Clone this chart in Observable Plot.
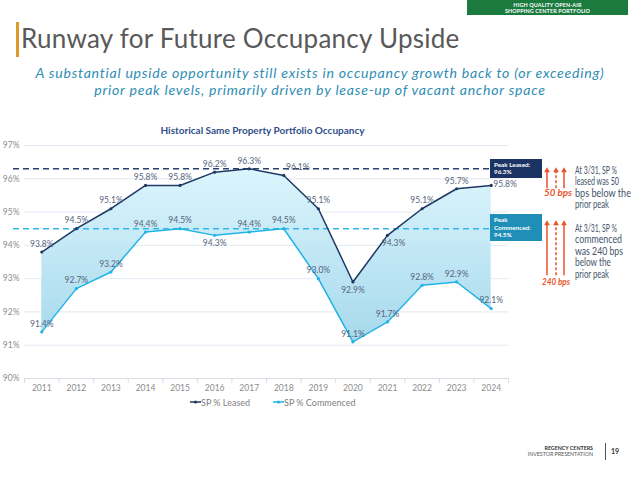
<!DOCTYPE html>
<html><head><meta charset="utf-8">
<script src="https://cdn.jsdelivr.net/npm/d3@7"></script>
<script src="https://cdn.jsdelivr.net/npm/@observablehq/plot@0.6"></script>
<style>
body{margin:0;background:#fff;}
#page{position:relative;width:640px;height:479px;overflow:hidden;font-family:Lato,"Open Sans",sans-serif;background:#fff;}
.abs{position:absolute;}
#banner{left:467px;top:0;width:161px;height:15px;background:#1b7a3e;color:#fff;font-weight:700;font-size:5.4px;line-height:6px;text-align:center;padding-top:1.5px;box-sizing:border-box;letter-spacing:0.15px;}
#bar{left:16px;top:22px;width:3px;height:35px;background:#dc9a2c;}
#title{left:21px;top:22px;font-size:26px;color:#595959;white-space:nowrap;letter-spacing:0.25px;}
.sub{left:0;width:640px;text-align:center;font-style:italic;font-size:14.1px;line-height:17px;height:17px;color:#2f8db3;letter-spacing:0.75px;white-space:nowrap;}
#ctitle{left:0;top:124px;width:525px;text-align:center;font-weight:700;font-size:10px;color:#2f4f8a;}
#chart{left:0;top:120px;}
.peak{position:absolute;left:490px;width:52px;color:#fff;font-weight:700;font-size:6.3px;line-height:7.5px;padding:2px 0 0 4px;box-sizing:border-box;}
#legend{left:0;top:397px;width:640px;height:12px;font-size:9px;color:#7f7f7f;}
.lg{position:absolute;top:0;white-space:nowrap;}
#footer1{right:47px;top:445px;font-size:5.3px;font-weight:700;color:#333;}
#footer2{right:47px;top:451px;font-size:5.3px;color:#555;}
#fline{left:605px;top:443px;width:1px;height:17px;background:#555;}
#pnum{left:611px;top:447px;font-size:7px;font-weight:700;color:#333;}
</style></head><body>
<div id="page">
  <div id="banner" class="abs">HIGH QUALITY OPEN-AIR<br>SHOPPING CENTER PORTFOLIO</div>
  <div id="bar" class="abs"></div>
  <div id="title" class="abs">Runway for Future Occupancy Upside</div>
  <div class="abs sub" style="top:64px">A substantial upside opportunity still exists in occupancy growth back to (or exceeding)</div>
  <div class="abs sub" style="top:81px">prior peak levels, primarily driven by lease-up of vacant anchor space</div>
  <div id="chart" class="abs"></div>
  <div id="ctitle" class="abs">Historical Same Property Portfolio Occupancy</div>
  <div id="legend" class="abs"></div>
  <div id="footer1" class="abs">REGENCY CENTERS</div>
  <div id="footer2" class="abs">INVESTOR PRESENTATION</div>
  <div id="fline" class="abs"></div>
  <div id="pnum" class="abs">19</div>
</div>
<script>
// ---- data ----
const years = [2011,2012,2013,2014,2015,2016,2017,2018,2019,2020,2021,2022,2023,2024];
const leased = [93.8,94.5,95.1,95.8,95.8,96.2,96.3,96.1,95.1,92.9,94.3,95.1,95.7,95.8];
const commenced = [91.4,92.7,93.2,94.4,94.5,94.3,94.4,94.5,93.0,91.1,91.7,92.8,92.9,92.1];
const yTicks = [90,91,92,93,94,95,96,97];
const peakLeased = 96.3;
const peakCommenced = 94.5;
const seriesNames = ["SP % Leased","SP % Commenced"];
const leasedGapBps = 50;
const commencedGapBps = 240;
const leasedNote = ["At 3/31, SP %","leased was "+leasedGapBps,"bps below the","prior peak"];
const commencedNote = ["At 3/31, SP %","commenced","was "+commencedGapBps+" bps","below the","prior peak"];

// presentation only
const leasedLabelAt = ["top","top","top","top","top","top","top","topright","top","bottom","bottomright","top","top","right"];
const commencedLabelAt = ["top","top","top","top","top","bottom","top","top","top","top","top","top","top","top"];
const leasedNoteWidths = [42,44,56,34];
const commencedNoteWidths = [42,47,48,36,34];

const navy = "#1f3864", cyan = "#1fb3e6", lab = "#56647d";
const data = years.map((year,i)=>({year, leased:leased[i], commenced:commenced[i], lp:leasedLabelAt[i], cp:commencedLabelAt[i]}));
const bounds = [years[0]-0.5, ...years.map(y=>y+0.5)];
const pct = v => v.toFixed(1)+"%";

const placements = {
  top:{dx:0,dy:-8,textAnchor:"middle"},
  bottom:{dx:0,dy:8,textAnchor:"middle"},
  topright:{dx:14,dy:-8,textAnchor:"middle"},
  bottomright:{dx:6,dy:8,textAnchor:"middle"},
  right:{dx:2,dy:-1,textAnchor:"start"}
};
const labelMarks = [];
for (const [k,p] of Object.entries(placements)) {
  labelMarks.push(Plot.text(data.filter(d=>d.lp===k), {x:"year", y:"leased", text:d=>pct(d.leased), fill:lab, ...p}));
  labelMarks.push(Plot.text(data.filter(d=>d.cp===k), {x:"year", y:"commenced", text:d=>pct(d.commenced), fill:lab, ...p}));
}

const chart = Plot.plot({
  width: 640, height: 285,
  marginTop: 25, marginBottom: 27, marginLeft: 24, marginRight: 132,
  style: {fontFamily:"Lato, sans-serif", fontSize:"8.5px", color:"#8c8c8c", background:"transparent", overflow:"visible"},
  x: {domain:[years[0]-0.5, years[years.length-1]+0.5], ticks: years, tickFormat: d=>String(d), tickSize:0, tickPadding:6, label:null},
  y: {domain:[yTicks[0], yTicks[yTicks.length-1]], ticks:yTicks, tickFormat: d=>d+"%", tickSize:0, tickPadding:5, label:null},
  marks: [
    Plot.gridY(yTicks.slice(1), {stroke:"#e1e9f2", strokeOpacity:1}),
    Plot.ruleY([yTicks[0]], {stroke:"#d9dee6"}),
    Plot.ruleX(bounds, {y1:yTicks[0], y2:yTicks[0]-0.15, stroke:"#d9dee6"}),
    Plot.areaY(data, {x:"year", y1:"commenced", y2:"leased", fill:"url(#occGrad)"}),
    Plot.ruleY([peakLeased], {stroke:"#27416f", strokeWidth:1.6, strokeDasharray:"6,4", insetLeft:-11, insetRight:16}),
    Plot.ruleY([peakCommenced], {stroke:"#2fb8e8", strokeWidth:1.6, strokeDasharray:"6,4", insetLeft:-11, insetRight:16}),
    Plot.line(data, {x:"year", y:"leased", stroke:navy, strokeWidth:1.5}),
    Plot.line(data, {x:"year", y:"commenced", stroke:cyan, strokeWidth:1.5}),
    Plot.dot(data, {x:"year", y:"leased", r:1.6, fill:navy}),
    Plot.dot(data, {x:"year", y:"commenced", r:1.6, fill:cyan}),
    ...labelMarks
  ]
});
const svg = d3.select(chart);
const defs = svg.insert("defs", ":first-child");
const g = defs.append("linearGradient").attr("id","occGrad").attr("x1",0).attr("y1",0).attr("x2",0).attr("y2",1);
g.append("stop").attr("offset","0%").attr("stop-color","#dcf5fd");
g.append("stop").attr("offset","100%").attr("stop-color","#a6d9ec");
document.getElementById("chart").appendChild(chart);

// annotations, anchored on the y scale
const top0 = 120;
const ys = chart.scale("y");
const yL = top0 + ys.apply(peakLeased);
const yC = top0 + ys.apply(peakCommenced);
const page = document.getElementById("page");
function div(cls, html, css){const d=document.createElement("div");d.className=cls;d.innerHTML=html;Object.assign(d.style,css);page.appendChild(d);return d;}
div("peak", "Peak Leased:<br>"+pct(peakLeased), {top:(yL-9.5)+"px", height:"19px", background:"#1c3464"});
div("peak", "Peak<br>Commenced:<br>"+pct(peakCommenced), {top:(yC-14)+"px", height:"27px", background:"#1f8fb8"});

const ann = d3.select(page).append("svg").attr("class","abs").attr("width",640).attr("height",479)
  .style("left","0px").style("top","0px").style("pointer-events","none")
  .style("font-family","Lato, sans-serif");
const oc = "#e8532a";
function arrows(y0, y1){
  [547,556,564].forEach((x,i)=>{
    ann.append("line").attr("x1",x).attr("x2",x).attr("y1",y1).attr("y2",y0+4).attr("stroke",oc).attr("stroke-width",1.5).attr("stroke-dasharray", i===1?"3,2":null);
    ann.append("path").attr("d",`M${x-2.8},${y0+5}L${x},${y0}L${x+2.8},${y0+5}Z`).attr("fill",oc);
  });
}
arrows(yL-1, yL+20);
arrows(yL+52, yL+107);
function note(lines, widths, yc){
  lines.forEach((t,i)=>{
    ann.append("text").attr("x",575).attr("y",yc+i*11.5).attr("dy","0.35em")
      .attr("font-size",10.8).attr("fill","#44546a")
      .attr("textLength",widths[i]).attr("lengthAdjust","spacingAndGlyphs").text(t);
  });
}
note(leasedNote, leasedNoteWidths, yL+1.7);
note(commencedNote, commencedNoteWidths, yL+59.7);
function bps(t, xc, yc){
  ann.append("text").attr("x",xc).attr("y",yc).attr("dy","0.35em").attr("text-anchor","middle")
    .attr("font-size",9.5).attr("font-weight",700).attr("font-style","italic").attr("fill",oc)
    .attr("textLength",28).attr("lengthAdjust","spacingAndGlyphs").text(t);
}
bps(leasedGapBps+" bps", 558, yL+24.7);
bps(commencedGapBps+" bps", 556, yL+113.7);

// legend
const lg = document.getElementById("legend");
[[190,navy],[273,cyan]].forEach(([x,c],i)=>{
  const s = document.createElement("div"); s.className="lg"; s.style.left=x+"px";
  s.innerHTML = `<svg width="11" height="10" style="vertical-align:-1px"><line x1="0" x2="11" y1="5" y2="5" stroke="${c}" stroke-width="1.5"/><circle cx="5.5" cy="5" r="1.6" fill="${c}"/></svg>${seriesNames[i]}`;
  lg.appendChild(s);
});
</script>
</body></html>
